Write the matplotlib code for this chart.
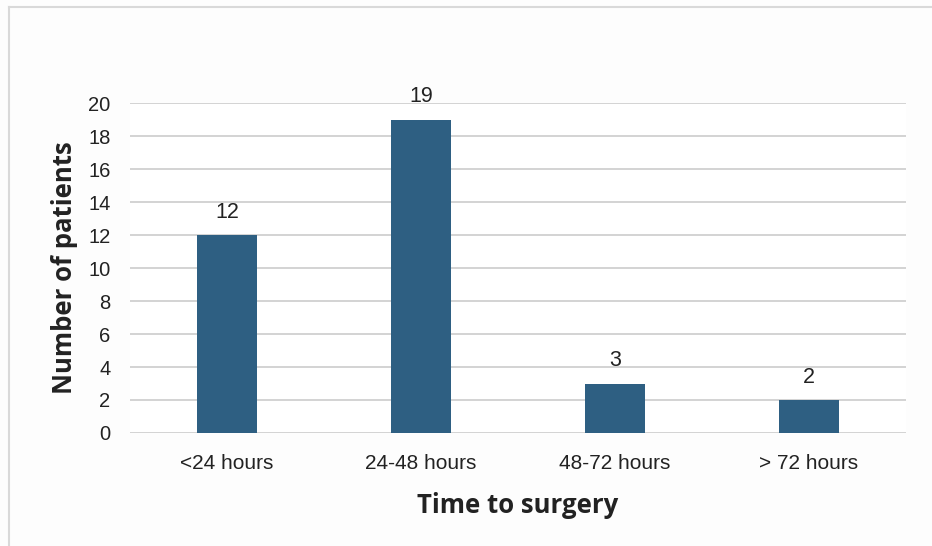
import matplotlib.pyplot as plt
from matplotlib.lines import Line2D

categories = ['<24 hours', '24-48 hours', '48-72 hours', '> 72 hours']
patients = [12, 19, 3, 2]
y_ticks = [0, 2, 4, 6, 8, 10, 12, 14, 16, 18, 20]

bar_color = '#2e5f82'

plt.rcParams['font.family'] = ['Liberation Sans', 'DejaVu Sans']

fig = plt.figure(figsize=(9.32, 5.46), dpi=100)
ax = fig.add_axes([0.1395, 0.207, 0.8325, 0.604])

x = range(len(categories))
bars = ax.bar(x, patients, width=0.31, color=bar_color, zorder=3)
for b, v in zip(bars, patients):
    ax.text(b.get_x() + b.get_width() / 2, v + 0.75, str(v), ha='center', va='bottom',
            fontsize=15.5, color='#222222')

ax.set_xlim(-0.5, len(categories) - 0.5)
ax.set_ylim(0, 20)
ax.set_yticks(y_ticks)
ax.set_xticks(list(x))
ax.set_xticklabels(categories)
ax.yaxis.grid(True, color='#c8c8c8', linewidth=1.1, zorder=0)
ax.tick_params(axis='both', length=0, colors='#222222')
ax.tick_params(axis='x', pad=15, labelsize=15)
ax.tick_params(axis='y', pad=14, labelsize=14.5)
for s in ax.spines.values():
    s.set_visible(False)

ax.set_xlabel('Time to surgery', fontsize=18.5, fontweight='bold', color='#222222', labelpad=14,
              family=['Open Sans', 'DejaVu Sans'])
ax.set_ylabel('Number of patients', fontsize=18.5, fontweight='bold', color='#222222', labelpad=7,
              family=['Open Sans', 'DejaVu Sans'])

# thin frame along the top and left edge
fig.add_artist(Line2D([9 / 932, 1.0], [1 - 7 / 546] * 2, color='#d9d9d9', linewidth=1.5))
fig.add_artist(Line2D([9 / 932] * 2, [0, 1 - 7 / 546], color='#d9d9d9', linewidth=1.5))

fig.savefig('out.png', dpi=100, facecolor='#fdfdfd')
